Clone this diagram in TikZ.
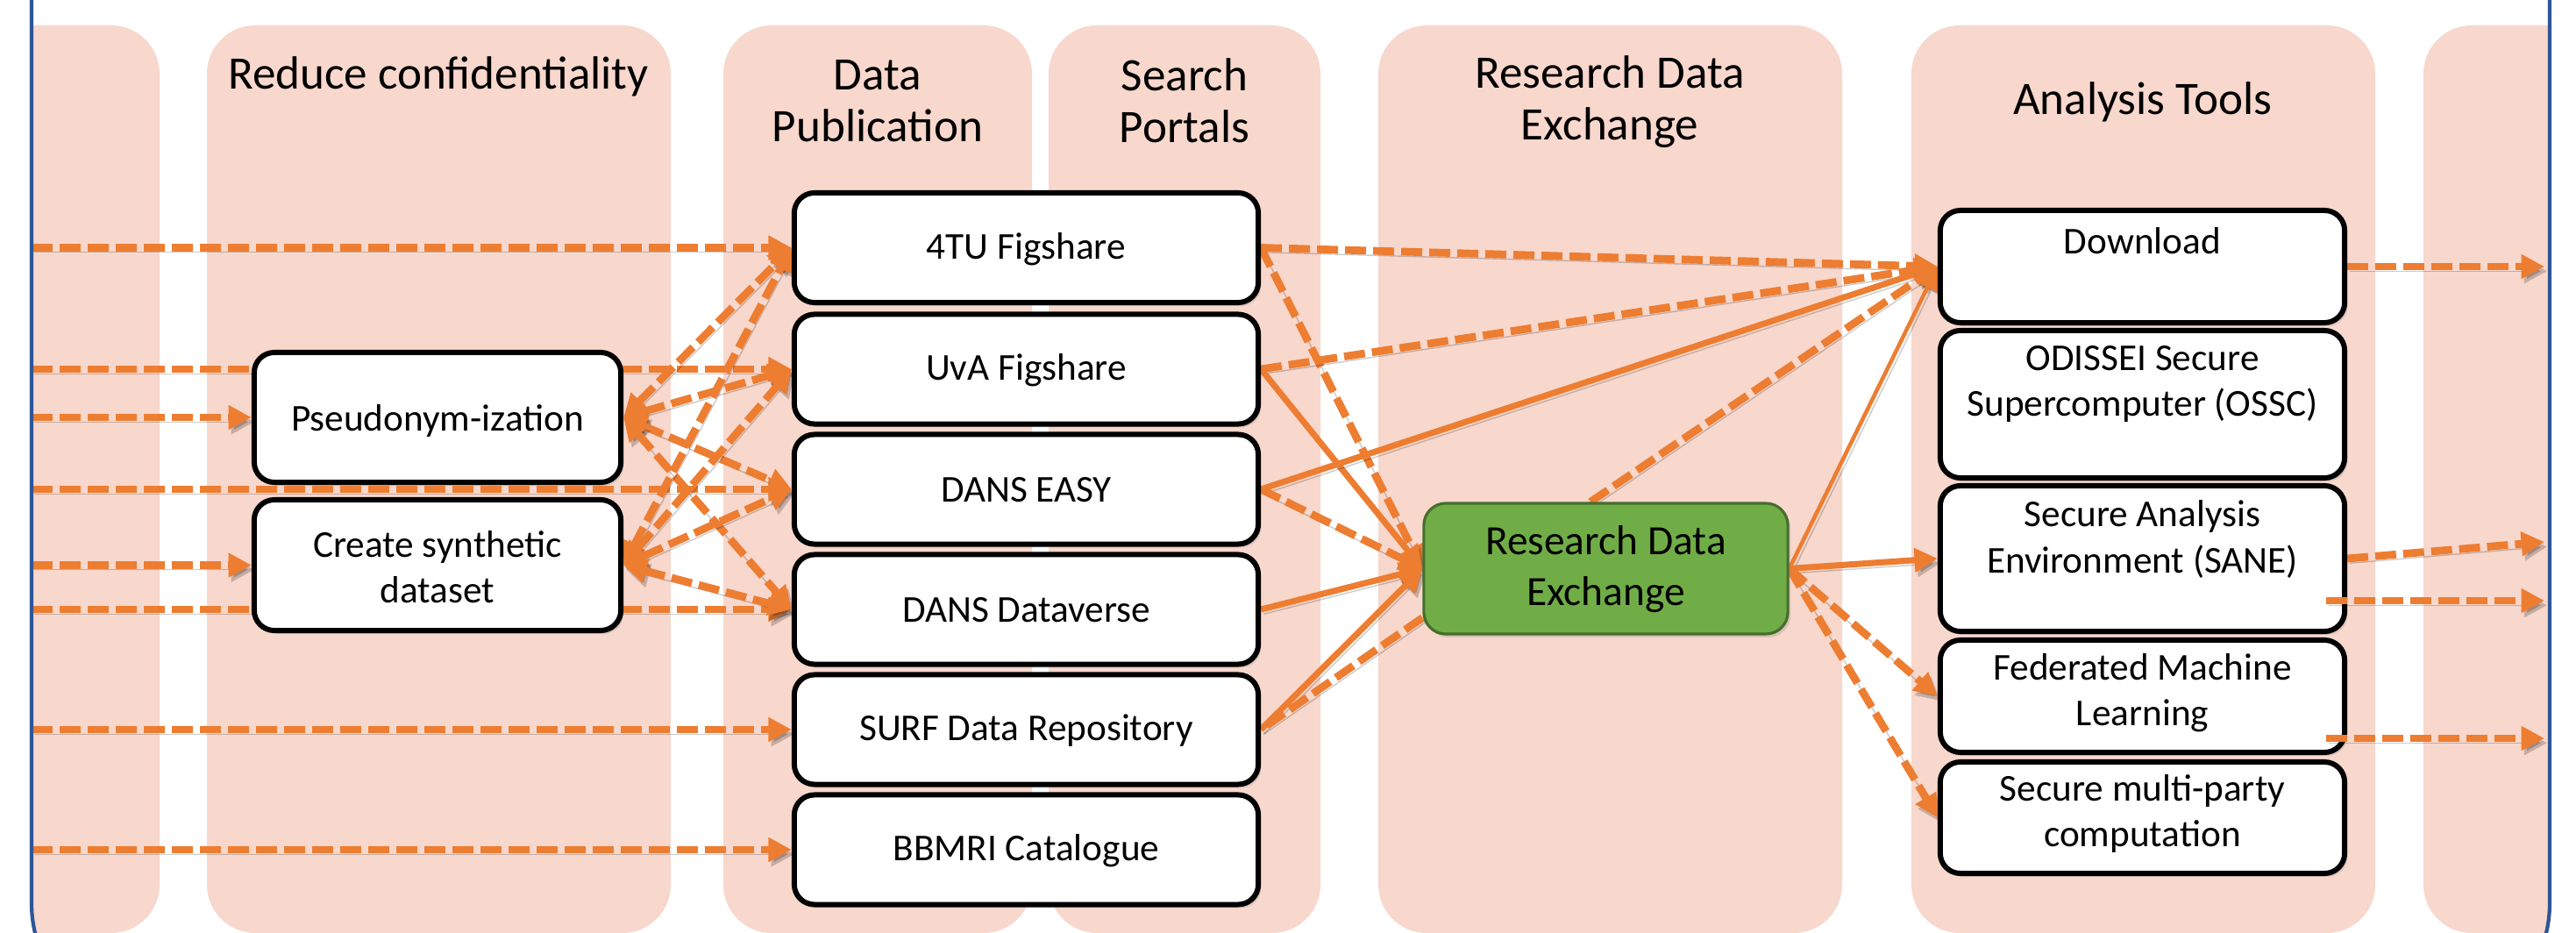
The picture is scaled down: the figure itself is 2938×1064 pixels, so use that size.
\documentclass[tikz,border=0pt]{standalone}
\usepackage{fontspec}
\setmainfont{Carlito}
\usetikzlibrary{arrows.meta,shadows}
\pgfdeclarelayer{lanes}
\pgfdeclarelayer{wires}
\pgfsetlayers{lanes,wires,main}
\definecolor{lanepink}{RGB}{248,215,204}
\definecolor{arrorange}{RGB}{237,125,49}
\definecolor{rdegreen}{RGB}{112,173,71}
\definecolor{rdeborder}{RGB}{70,110,45}
\definecolor{frameblue}{RGB}{47,85,151}
\tikzset{
  lane/.style={fill=lanepink, rounded corners=0.55cm},
  lanetitle/.style={align=center, font=\fontsize{15.1}{16.8}\selectfont, inner sep=0pt},
  box/.style={draw=black, line width=1.7pt, fill=white, rounded corners=0.23cm, inner sep=0pt,
    drop shadow={opacity=0.25, shadow xshift=0.9pt, shadow yshift=-1.1pt}},
  boxtext/.style={align=center, font=\fontsize{12.3}{14.8}\selectfont, inner sep=0pt},
  rdebox/.style={draw=rdeborder, line width=0.9pt, fill=rdegreen, rounded corners=0.25cm, inner sep=0pt,
    drop shadow={opacity=0.25, shadow xshift=0.9pt, shadow yshift=-1.1pt}},
  rdetext/.style={align=center, font=\fontsize{13.5}{16.5}\selectfont, inner sep=0pt},
  wshadow/.style={preaction={draw=black, opacity=0.2, transform canvas={xshift=0.9pt,yshift=-1.5pt}}},
  conn/.style={draw=arrorange, line width=2.5pt, -{Triangle[length=7.5pt,width=7.5pt]}, wshadow},
  dconn/.style={conn, dash pattern=on 6.8pt off 2.3pt},
  bconn/.style={dconn, {Triangle[length=7.5pt,width=7.5pt]}-{Triangle[length=7.5pt,width=7.5pt]}},
  sconn/.style={conn, line width=2pt},
  thinconn/.style={conn, line width=1.3pt},
  framebox/.style={draw=frameblue, line width=1.2pt, rounded corners=1.46cm}
}
\begin{document}
\begin{tikzpicture}[x=0.01cm, y=-0.01cm]
\useasboundingbox (0,0) rectangle (2938,1064);

% lanes (background)
\begin{pgfonlayer}{lanes}
\begin{scope}
  \clip[rounded corners=1.46cm] (36,-150) rectangle (2908,1176);
  \fill[lane] (-100,29) rectangle (182,1064);
  \fill[lane] (236,29) rectangle (765,1064);
  \fill[lane] (825,29) rectangle (1177,1064);
  \fill[lane] (1196,29) rectangle (1506,1064);
  \fill[lane] (1572,29) rectangle (2101,1064);
  \fill[lane] (2180,29) rectangle (2709,1064);
  \fill[lane] (2764,29) rectangle (3050,1064);
\end{scope}
\end{pgfonlayer}

% lane titles
\node[lanetitle] (t1) at (500,87) {Reduce confidentiality};
\node[lanetitle] (t2) at (1001,115) {Data\\Publication};
\node[lanetitle] (t3) at (1351,115) {Search\\Portals};
\node[lanetitle] (t4) at (1836,116) {Research Data\\Exchange};
\node[lanetitle] (t5) at (2444,116) {Analysis Tools};

% reduce confidentiality boxes
\node[box, minimum width=4.18cm, minimum height=1.48cm] (ps) at (499,476) {};
\node[boxtext] (pst) at (499,480) {Pseudonym-ization};
\node[box, minimum width=4.18cm, minimum height=1.49cm] (cs) at (499,644.5) {};
\node[boxtext] (cst) at (499,647) {Create synthetic\\dataset};

% data publication boxes
\node[box, minimum width=5.29cm, minimum height=1.25cm] (fourtu) at (1170.5,282.5) {};
\node[boxtext] (fourtut) at (1170.5,284) {4TU Figshare};
\node[box, minimum width=5.29cm, minimum height=1.25cm] (uva) at (1170.5,421) {};
\node[boxtext] (uvat) at (1170.5,422) {UvA Figshare};
\node[box, minimum width=5.29cm, minimum height=1.25cm] (easy) at (1170.5,558) {};
\node[boxtext] (easyt) at (1170.5,559) {DANS EASY};
\node[box, minimum width=5.29cm, minimum height=1.25cm] (dv) at (1170.5,695) {};
\node[boxtext] (dvt) at (1170.5,696) {DANS Dataverse};
\node[box, minimum width=5.29cm, minimum height=1.25cm] (surf) at (1170.5,832) {};
\node[boxtext] (surft) at (1170.5,833) {SURF Data Repository};
\node[box, minimum width=5.29cm, minimum height=1.25cm] (bb) at (1170.5,969) {};
\node[boxtext] (bbt) at (1170.5,970) {BBMRI Catalogue};

% research data exchange
\node[rdebox, minimum width=4.15cm, minimum height=1.49cm] (rde) at (1831.5,648.5) {};
\node[rdetext] (rdet) at (1831.5,649) {Research Data\\Exchange};

% analysis tools
\node[box, minimum width=4.61cm, minimum height=1.28cm] (dl) at (2443.5,304) {};
\node[boxtext] (dlt) at (2443.5,275) {Download};
\node[box, minimum width=4.61cm, minimum height=1.68cm] (od) at (2443.5,461) {};
\node[boxtext] (odt) at (2443.5,438) {ODISSEI Secure\\Supercomputer (OSSC)};
\node[box, minimum width=4.61cm, minimum height=1.66cm] (sane) at (2443.5,637) {};
\node[boxtext] (sanet) at (2443.5,615) {Secure Analysis\\Environment (SANE)};
\node[box, minimum width=4.61cm, minimum height=1.28cm] (fed) at (2443.5,794) {};
\node[boxtext] (fedt) at (2443.5,790) {Federated Machine\\Learning};
\node[box, minimum width=4.61cm, minimum height=1.27cm] (smc) at (2443.5,932.5) {};
\node[boxtext] (smct) at (2443.5,928) {Secure multi-party\\computation};

% free ends
\coordinate (l1) at (36,282.5);
\coordinate (l2) at (36,421);
\coordinate (l3) at (36,476);
\coordinate (l4) at (36,558);
\coordinate (l5) at (36,644.5);
\coordinate (l6) at (36,695);
\coordinate (l7) at (36,832);
\coordinate (l8) at (36,969);
\coordinate (r1) at (2902,304);
\coordinate (r2) at (2902,618);
\coordinate (s2) at (2653,685);
\coordinate (r3) at (2902,685);
\coordinate (f2) at (2653,842);
\coordinate (r4) at (2902,842);

\begin{pgfonlayer}{wires}
% incoming from the left
\draw[dconn] (l1) -- (fourtu.west);
\draw[dconn] (l2) -- (uva.west);
\draw[dconn] (l3) -- (ps.west);
\draw[dconn] (l4) -- (easy.west);
\draw[dconn] (l5) -- (cs.west);
\draw[dconn] (l6) -- (dv.west);
\draw[dconn] (l7) -- (surf.west);
\draw[dconn] (l8) -- (bb.west);
% reduce confidentiality <-> data publication
\draw[bconn] (ps.east) -- (fourtu.west);
\draw[bconn] (ps.east) -- (uva.west);
\draw[bconn] (ps.east) -- (easy.west);
\draw[bconn] (ps.east) -- (dv.west);
\draw[bconn] (cs.east) -- (fourtu.west);
\draw[bconn] (cs.east) -- (uva.west);
\draw[bconn] (cs.east) -- (easy.west);
\draw[bconn] (cs.east) -- (dv.west);
% data publication -> download / RDE
\draw[dconn] (fourtu.east) -- (dl.west);
\draw[dconn] (fourtu.east) -- (rde.west);
\draw[dconn] (uva.east) -- (dl.west);
\draw[sconn] (uva.east) -- (rde.west);
\draw[sconn] (easy.east) -- (dl.west);
\draw[dconn] (easy.east) -- (rde.west);
\draw[sconn] (dv.east) -- (rde.west);
\draw[sconn] (surf.east) -- (rde.west);
\draw[dconn, -] (rde.195) -- (surf.east);
% RDE -> analysis tools
\draw[dconn] (rde.103) -- (dl.west);
\draw[thinconn] (rde.east) -- (dl.west);
\draw[sconn] (rde.east) -- (sane.west);
\draw[dconn] (rde.east) -- (fed.west);
\draw[dconn] (rde.east) -- (smc.west);
% outgoing to the right
\draw[dconn] (dl.east) -- (r1);
\draw[dconn] (sane.east) -- (r2);
\end{pgfonlayer}
\draw[dconn] (s2) -- (r3);
\draw[dconn] (f2) -- (r4);

% outer frame
\draw[framebox] (36,-150) rectangle (2908,1176);
\end{tikzpicture}
\end{document}
